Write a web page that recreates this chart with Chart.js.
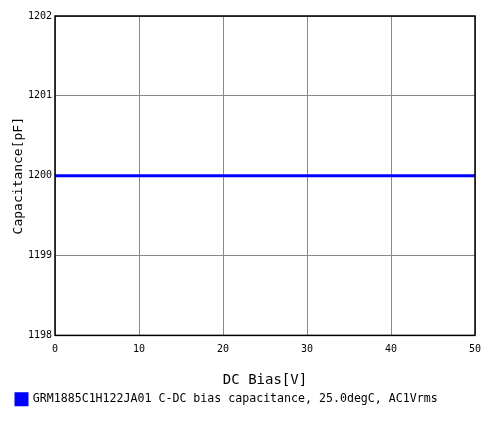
<!DOCTYPE html>
<html>
<head>
<meta charset="utf-8">
<script src="https://cdn.jsdelivr.net/npm/chart.js@4/dist/chart.umd.min.js"></script>
<style>
  html, body { margin: 0; padding: 0; background: #fff; }
  #wrap { width: 500px; height: 422px; }
</style>
</head>
<body>
<div id="wrap"><canvas id="myChart" width="500" height="422"></canvas></div>
<script>
// values
var dcBias = [0, 5, 10, 15, 20, 25, 30, 35, 40, 45, 50]
var capacitance = [1200, 1200, 1200, 1200, 1200, 1200, 1200, 1200, 1200, 1200, 1200]
var seriesName = 'GRM1885C1H122JA01 C-DC bias capacitance, 25.0degC, AC1Vrms'
var xTitle = 'DC Bias[V]'
var yTitle = 'Capacitance[pF]'

var mono = "'DejaVu Sans Mono', 'Liberation Mono', monospace"

var points = dcBias.map(function (x, i) { return { x: x, y: capacitance[i] } })

// draws the black frame round the plot area
var frame = {
  id: 'frame',
  afterDatasetsDraw: function (chart) {
    var a = chart.chartArea, c = chart.ctx
    c.save()
    c.strokeStyle = '#000'
    c.lineWidth = 1.5
    c.strokeRect(a.left, a.top, a.right - a.left, a.bottom - a.top)
    c.restore()
  }
}

var ctx = document.getElementById('myChart').getContext('2d')
var chart = new Chart(ctx, {
  type: 'line',
  data: {
    datasets: [{
      label: seriesName,
      data: points,
      borderColor: '#0000ff',
      backgroundColor: '#0000ff',
      borderWidth: 3,
      pointRadius: 0,
      tension: 0
    }]
  },
  options: {
    responsive: false,
    animation: false,
    layout: { padding: { left: 11, right: 25, top: 16, bottom: 7 } },
    plugins: {
      legend: {
        position: 'bottom',
        align: 'start',
        labels: {
          boxWidth: 11,
          boxHeight: 11,
          padding: 5,
          color: '#000',
          font: { family: mono, size: 11.6 }
        }
      },
      tooltip: { enabled: false }
    },
    scales: {
      x: {
        type: 'linear',
        min: 0,
        max: 50,
        ticks: { stepSize: 10, color: '#000', padding: 8, maxRotation: 0, font: { family: mono, size: 10 } },
        grid: { color: '#888', lineWidth: 1, drawTicks: false },
        border: { display: false },
        title: { display: true, text: xTitle, color: '#000', padding: { top: 4, bottom: 0 }, font: { family: mono, size: 14 } },
        afterFit: function (scale) { scale.height = 53 }
      },
      y: {
        min: 1198,
        max: 1202,
        ticks: {
          stepSize: 1, color: '#000', padding: 3, font: { family: mono, size: 10 },
          callback: function (v) { return String(v) }
        },
        grid: { color: '#888', lineWidth: 1, drawTicks: false },
        border: { display: false },
        title: { display: true, text: yTitle, color: '#000', padding: { top: 0, bottom: 4 }, font: { family: mono, size: 13 } },
        afterFit: function (scale) { scale.width = 44 }
      }
    }
  },
  plugins: [frame]
})
</script>
</body>
</html>
